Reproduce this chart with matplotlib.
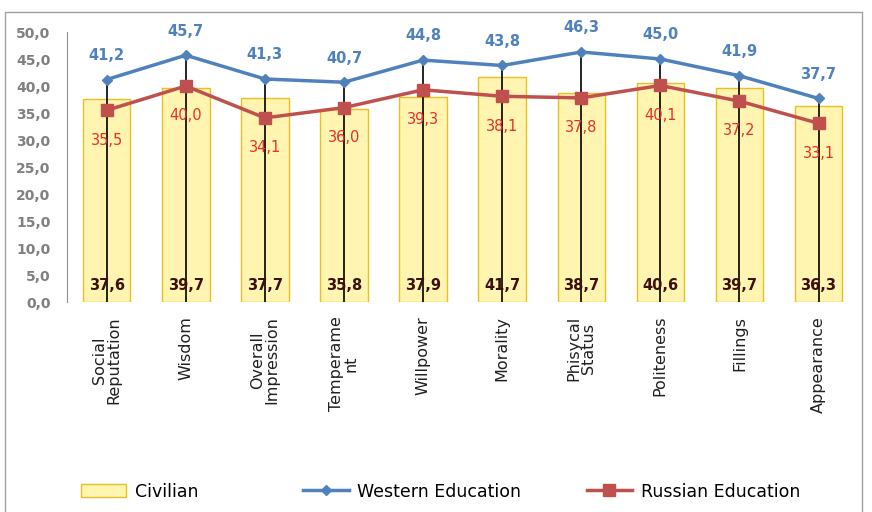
import numpy as np
import matplotlib.pyplot as plt
from matplotlib.patches import Rectangle

categories = ['Social\nReputation', 'Wisdom', 'Overall\nImpression', 'Temperame\nnt',
              'Willpower', 'Morality', 'Phisycal\nStatus', 'Politeness', 'Fillings', 'Appearance']
civilian = [37.6, 39.7, 37.7, 35.8, 37.9, 41.7, 38.7, 40.6, 39.7, 36.3]
western = [41.2, 45.7, 41.3, 40.7, 44.8, 43.8, 46.3, 45.0, 41.9, 37.7]
russian = [35.5, 40.0, 34.1, 36.0, 39.3, 38.1, 37.8, 40.1, 37.2, 33.1]

blue = '#4F81BD'
red = '#C0504D'

def fmt(v):
    return f'{v:.1f}'.replace('.', ',')

fig = plt.figure(figsize=(8.72, 5.12), dpi=100)
fig.patches.append(Rectangle((0.006, -0.01), 0.983, 0.987, transform=fig.transFigure,
                             fill=False, edgecolor='#a0a0a0', linewidth=1))
ax = fig.add_axes([0.077, 0.41, 0.907, 0.5275])

x = np.arange(len(categories))

ax.bar(x, civilian, width=0.6, color='#FFF4B0', edgecolor='#E8C020', linewidth=1, zorder=1)
ax.vlines(x, 0, western, color='black', linewidth=1.2, zorder=2)
ax.plot(x, western, color=blue, linewidth=2.5, marker='D', markersize=5, zorder=3)
ax.plot(x, russian, color=red, linewidth=2.5, marker='s', markersize=8, zorder=3)

for i in range(len(x)):
    ax.annotate(fmt(western[i]), (x[i], western[i]), xytext=(0, 12), textcoords='offset points',
                ha='center', va='bottom', color=blue, fontsize=10.5, fontweight='bold')
    ax.annotate(fmt(russian[i]), (x[i], russian[i]), xytext=(0, -16), textcoords='offset points',
                ha='center', va='top', color='#E8302A', fontsize=10.5)
    ax.text(x[i], 3.0, fmt(civilian[i]), ha='center', va='center', color='#3A1010',
            fontsize=10.5, fontweight='bold', zorder=4)

ax.set_xlim(-0.5, len(x) - 0.5)
ax.set_ylim(0, 50)
ax.set_yticks(np.arange(0, 51, 5))
ax.set_yticklabels([fmt(v) for v in np.arange(0, 51, 5)], color='#808080',
                   fontsize=10, fontweight='bold')
ax.set_xticks(x)
ax.set_xticklabels(categories, rotation=90, fontsize=11.5, color='#202020',
                   linespacing=1.0, va='top', ha='center')
ax.tick_params(axis='x', length=0, pad=10)
ax.tick_params(axis='y', length=0, pad=12)

for s in ['top', 'right', 'bottom']:
    ax.spines[s].set_visible(False)
ax.spines['left'].set_color('#909090')

# legend entries placed separately
entries = [
    (Rectangle((0, 0), 1, 1, facecolor='#FFF4B0', edgecolor='#E8C020'), 'Civilian', 0.075),
    (plt.Line2D([], [], color=blue, linewidth=2.5, marker='D', markersize=5), 'Western Education', 0.33),
    (plt.Line2D([], [], color=red, linewidth=2.5, marker='s', markersize=8), 'Russian Education', 0.655),
]
for h, lab, xpos in entries:
    fig.legend([h], [lab], loc='center left', bbox_to_anchor=(xpos, 0.04), frameon=False,
               handlelength=2.6, handletextpad=0.5,
               prop={'family': 'Liberation Sans Narrow', 'size': 12.5})

fig.savefig('out.png', dpi=100)
